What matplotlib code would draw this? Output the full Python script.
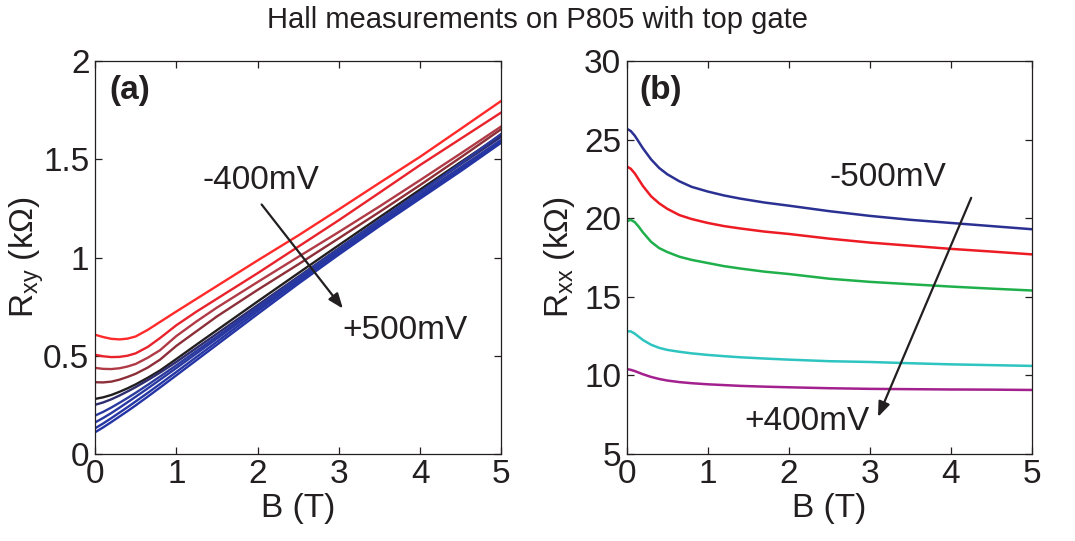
import matplotlib
matplotlib.use("Agg")
import matplotlib.pyplot as plt

plt.rcParams["font.family"] = ["Liberation Sans", "DejaVu Sans"]
plt.rcParams["mathtext.default"] = "regular"

# ---- panel (a): Hall resistance vs field for each gate voltage ----
b_a = [0, 0.1, 0.2, 0.3, 0.4, 0.5, 0.65, 0.8, 1, 1.25, 1.5, 2, 2.5, 3, 3.5, 4, 4.5, 5]
gates_a = ["-400mV", "-300mV", "-200mV", "-100mV", "0mV",
           "+100mV", "+200mV", "+300mV", "+400mV", "+500mV"]
rxy = [
    [0.607, 0.595, 0.586, 0.583, 0.587, 0.598, 0.632, 0.672, 0.725, 0.790, 0.855, 0.985, 1.112, 1.245, 1.380, 1.513, 1.655, 1.798],
    [0.505, 0.497, 0.493, 0.494, 0.500, 0.512, 0.545, 0.590, 0.655, 0.725, 0.790, 0.920, 1.055, 1.190, 1.330, 1.471, 1.605, 1.739],
    [0.438, 0.433, 0.432, 0.436, 0.445, 0.458, 0.490, 0.528, 0.600, 0.675, 0.745, 0.875, 1.003, 1.130, 1.260, 1.394, 1.530, 1.668],
    [0.365, 0.364, 0.368, 0.378, 0.392, 0.408, 0.440, 0.480, 0.550, 0.625, 0.700, 0.835, 0.965, 1.098, 1.232, 1.369, 1.510, 1.654],
    [0.280, 0.288, 0.300, 0.316, 0.334, 0.354, 0.388, 0.425, 0.483, 0.557, 0.630, 0.776, 0.920, 1.063, 1.205, 1.346, 1.486, 1.625],
    [0.250, 0.262, 0.278, 0.297, 0.318, 0.340, 0.376, 0.414, 0.468, 0.540, 0.612, 0.757, 0.902, 1.047, 1.190, 1.333, 1.475, 1.615],
    [0.195, 0.214, 0.236, 0.260, 0.285, 0.311, 0.352, 0.394, 0.451, 0.525, 0.598, 0.748, 0.897, 1.045, 1.190, 1.333, 1.480, 1.630],
    [0.160, 0.183, 0.208, 0.235, 0.263, 0.291, 0.334, 0.378, 0.437, 0.512, 0.587, 0.738, 0.887, 1.034, 1.178, 1.320, 1.460, 1.600],
    [0.130, 0.155, 0.182, 0.210, 0.238, 0.267, 0.311, 0.356, 0.417, 0.494, 0.571, 0.726, 0.878, 1.026, 1.170, 1.310, 1.450, 1.590],
    [0.110, 0.135, 0.162, 0.190, 0.218, 0.247, 0.292, 0.338, 0.400, 0.478, 0.556, 0.712, 0.866, 1.015, 1.160, 1.300, 1.440, 1.585],
]
colors_a = ["#ff2a2a", "#e8232c", "#b03a45", "#8c2f38", "#231f20",
            "#2e2d70", "#2a3a9e", "#2838a0", "#2636a2", "#2434a4"]

# ---- panel (b): longitudinal resistance vs field ----
b_b = [0, 0.05, 0.1, 0.15, 0.2, 0.3, 0.4, 0.5, 0.65, 0.8, 1, 1.2, 1.4, 1.7, 2,
       2.5, 3, 3.5, 4, 4.5, 5]
gates_b = ["-500mV", "-300mV", "-100mV", "+200mV", "+400mV"]
rxx = [
    [25.7, 25.55, 25.25, 24.85, 24.45, 23.75, 23.2, 22.8, 22.35, 22.0, 21.7, 21.45, 21.25, 21.0, 20.8, 20.45, 20.15, 19.9, 19.7, 19.5, 19.3],
    [23.3, 23.15, 22.85, 22.45, 22.05, 21.4, 20.95, 20.6, 20.2, 19.95, 19.7, 19.5, 19.35, 19.15, 19.0, 18.7, 18.45, 18.25, 18.05, 17.88, 17.7],
    [19.8, 19.9, 19.75, 19.45, 19.1, 18.5, 18.1, 17.85, 17.55, 17.35, 17.15, 16.95, 16.8, 16.6, 16.45, 16.15, 15.95, 15.8, 15.65, 15.52, 15.4],
    [12.8, 12.8, 12.65, 12.45, 12.25, 11.95, 11.75, 11.62, 11.5, 11.4, 11.3, 11.22, 11.15, 11.07, 11.0, 10.9, 10.85, 10.77, 10.7, 10.65, 10.6],
    [10.4, 10.35, 10.27, 10.17, 10.07, 9.9, 9.77, 9.67, 9.57, 9.5, 9.43, 9.38, 9.33, 9.28, 9.24, 9.18, 9.14, 9.12, 9.1, 9.09, 9.07],
]
colors_b = ["#2b3192", "#ed1c24", "#1fb04b", "#2ec4c0", "#a3218e"]

FS = 24
INK = "#231f20"
fig = plt.figure(figsize=(10.75, 5.41), dpi=100)
ax_a = fig.add_axes([0.0884, 0.161, 0.378, 0.726])
ax_b = fig.add_axes([0.583, 0.161, 0.377, 0.726])

for y, c in zip(rxy, colors_a):
    ax_a.plot(b_a, y, color=c, lw=1.7)
for y, c in zip(rxx, colors_b):
    ax_b.plot(b_b, y, color=c, lw=1.8)

ax_a.set_xlim(0, 5)
ax_a.set_ylim(0, 2)
ax_a.set_yticks([0, 0.5, 1, 1.5, 2])
ax_a.set_yticklabels(["0", "0.5", "1", "1.5", "2"])
ax_b.set_xlim(0, 5)
ax_b.set_ylim(5, 30)
ax_b.set_yticks([5, 10, 15, 20, 25, 30])

for ax in (ax_a, ax_b):
    ax.set_xticks([0, 1, 2, 3, 4, 5])
    ax.tick_params(direction="in", top=True, right=True, length=5,
                   width=0.9, labelsize=FS, colors=INK, pad=4)
    for s in ax.spines.values():
        s.set_linewidth(0.9)
        s.set_color(INK)
    ax.set_xlabel("B (T)", fontsize=FS, color=INK, labelpad=2)

ax_a.set_ylabel("R$_{xy}$ (kΩ)", fontsize=FS, color=INK)
ax_b.set_ylabel("R$_{xx}$ (kΩ)", fontsize=FS, color=INK)
ax_a.yaxis.set_label_coords(-0.12, 0.5)
ax_b.yaxis.set_label_coords(-0.123, 0.5)

ax_a.text(0.035, 0.925, "(a)", transform=ax_a.transAxes, fontsize=FS,
          fontweight="bold", va="center", ha="left", color=INK)
ax_b.text(0.03, 0.925, "(b)", transform=ax_b.transAxes, fontsize=FS,
          fontweight="bold", va="center", ha="left", color=INK)

arrow = dict(arrowstyle="-|>,head_length=0.9,head_width=0.35",
             color=INK, lw=1.6, shrinkA=0, shrinkB=0)
ax_a.text(2.04, 1.39, gates_a[0], fontsize=FS, ha="center", va="center", color=INK)
ax_a.text(3.82, 0.63, gates_a[-1], fontsize=FS, ha="center", va="center", color=INK)
ax_a.annotate("", xy=(3.05, 0.74), xytext=(2.05, 1.27), arrowprops=arrow)

ax_b.text(3.22, 22.6, gates_b[0], fontsize=FS, ha="center", va="center", color=INK)
ax_b.text(2.23, 7.05, gates_b[-1], fontsize=FS, ha="center", va="center", color=INK)
ax_b.annotate("", xy=(3.1, 7.35), xytext=(4.25, 21.3), arrowprops=arrow)

fig.text(0.5, 0.963, "Hall measurements on P805 with top gate", fontsize=21,
         ha="center", va="center", color=INK)

fig.savefig("out.png", dpi=100)
